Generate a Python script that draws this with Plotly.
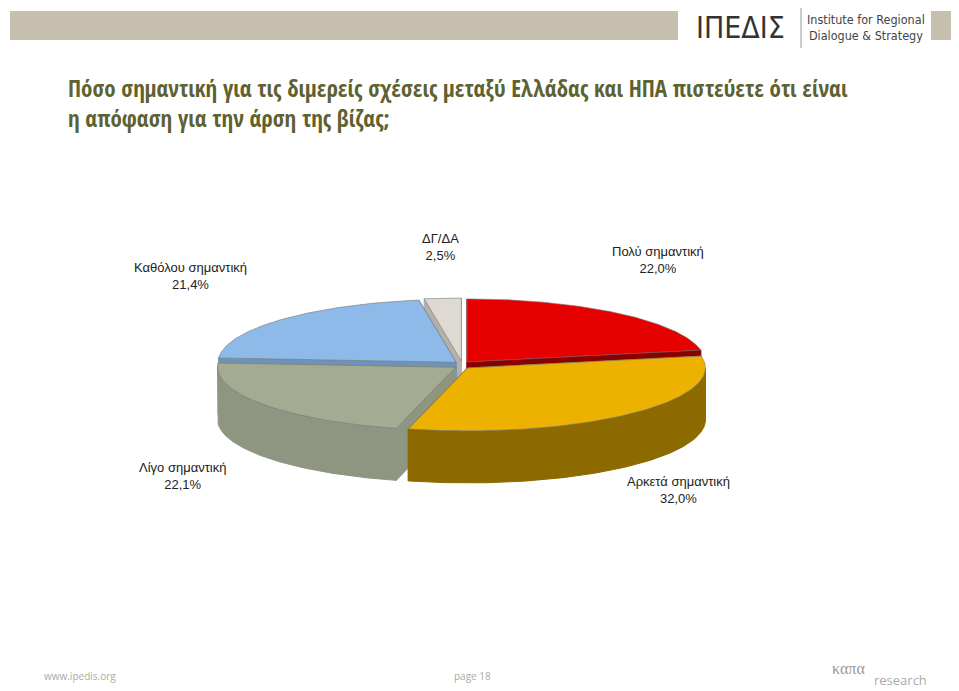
import numpy as np
import plotly.graph_objects as go

categories = ["Πολύ σημαντική", "Αρκετά σημαντική", "Λίγο σημαντική", "Καθόλου σημαντική", "ΔΓ/ΔΑ"]
values = [22.0, 32.0, 22.1, 21.4, 2.5]
top_colors = ["#E60000", "#EDB100", "#A3AB93", "#8DBAE8", "#DEDAD3"]
wall_colors = ["#8A0000", "#8C6A00", "#8E9682", "#6E93BA", "#B5B0A8"]
label_pos = [(658, 260), (678, 490), (182, 476), (190, 276), (440, 247)]

cx, cy, rx, ry, depth, pull = 462, 365, 238, 63, 52, 8
fig = go.Figure()
total = sum(values)
ang = np.cumsum([0] + values) / total * 2 * np.pi
slices = []
for i, v in enumerate(values):
    a0, a1 = ang[i], ang[i + 1]
    mid = (a0 + a1) / 2
    ox, oy = pull * np.sin(mid), -pull * 0.5 * np.cos(mid)
    slices.append((-np.cos(mid), i, a0, a1, ox, oy))
for _, i, a0, a1, ox, oy in sorted(slices):
    t = np.linspace(a0, a1, 120)
    xs = cx + ox + rx * np.sin(t)
    ys = cy + oy - ry * np.cos(t)
    f0, f1 = max(a0, np.pi / 2), min(a1, 3 * np.pi / 2)
    if f1 > f0:
        tw = np.linspace(f0, f1, 120)
        wx = cx + ox + rx * np.sin(tw)
        wy = cy + oy - ry * np.cos(tw)
        fig.add_trace(go.Scatter(x=np.r_[wx, wx[::-1], wx[0]], y=np.r_[wy, wy[::-1] + depth, wy[0]],
                                 fill="toself", fillcolor=wall_colors[i], mode="lines",
                                 line=dict(color=wall_colors[i], width=1), hoverinfo="skip", showlegend=False))
    for a in (a0, a1):
        px, py = cx + ox + rx * np.sin(a), cy + oy - ry * np.cos(a)
        fig.add_trace(go.Scatter(x=[cx + ox, px, px, cx + ox, cx + ox], y=[cy + oy, py, py + depth, cy + oy + depth, cy + oy],
                                 fill="toself", fillcolor=wall_colors[i], mode="lines",
                                 line=dict(color=wall_colors[i], width=1), hoverinfo="skip", showlegend=False))
    fig.add_trace(go.Scatter(x=np.r_[cx + ox, xs, cx + ox], y=np.r_[cy + oy, ys, cy + oy],
                             fill="toself", fillcolor=top_colors[i], mode="lines",
                             line=dict(color="#777777", width=0.6), hoverinfo="skip", showlegend=False))

for i, (c, v) in enumerate(zip(categories, values)):
    x, y = label_pos[i]
    fig.add_annotation(x=x, y=y, text=f"{c}<br>{v:.1f}%".replace(".", ","), showarrow=False,
                       font=dict(family="Liberation Sans, Arial", size=13, color="#222"))

shapes = [
    dict(type="rect", x0=10, x1=678, y0=11, y1=40, fillcolor="#C6BFAE", line_width=0, layer="below"),
    dict(type="rect", x0=931, x1=959, y0=11, y1=40, fillcolor="#C6BFAE", line_width=0, layer="below"),
    dict(type="line", x0=801, x1=801, y0=6, y1=48, line=dict(color="#999", width=1)),
]
anns = [
    dict(x=740, y=27, text="ΙΠΕΔΙΣ", font=dict(size=30, color="#333", family="DejaVu Sans Condensed")),
    dict(x=866, y=27, text="Institute for Regional<br>Dialogue & Strategy", font=dict(size=12.5, color="#444", family="DejaVu Sans Condensed")),
    dict(x=66, y=103, xanchor="left", align="left",
         text="Πόσο σημαντική για τις διμερείς σχέσεις μεταξύ Ελλάδας και ΗΠΑ πιστεύετε ότι είναι<br>η απόφαση για την άρση της βίζας;",
         font=dict(size=23, color="#5E6130", family="Open Sans Condensed, Liberation Sans Narrow, Open Sans")),
    dict(x=42, y=676, xanchor="left", text="www.ipedis.org", font=dict(size=10, color="#aaa")),
    dict(x=472, y=676, text="page 18", font=dict(size=10, color="#aaa")),
    dict(x=848, y=668, text="καπα", font=dict(size=16, color="#999", family="Liberation Serif")),
    dict(x=900, y=680, text="research", font=dict(size=13, color="#aaa")),
]
for a in anns:
    fig.add_annotation(showarrow=False, xref="x", yref="y", **a)

fig.update_layout(width=951, height=683, margin=dict(l=0, r=0, t=0, b=0),
                  plot_bgcolor="white", paper_bgcolor="white", shapes=shapes,
                  xaxis=dict(range=[8, 959], visible=False, fixedrange=True),
                  yaxis=dict(range=[691, 8], visible=False, fixedrange=True))
fig.write_html("out.html")
